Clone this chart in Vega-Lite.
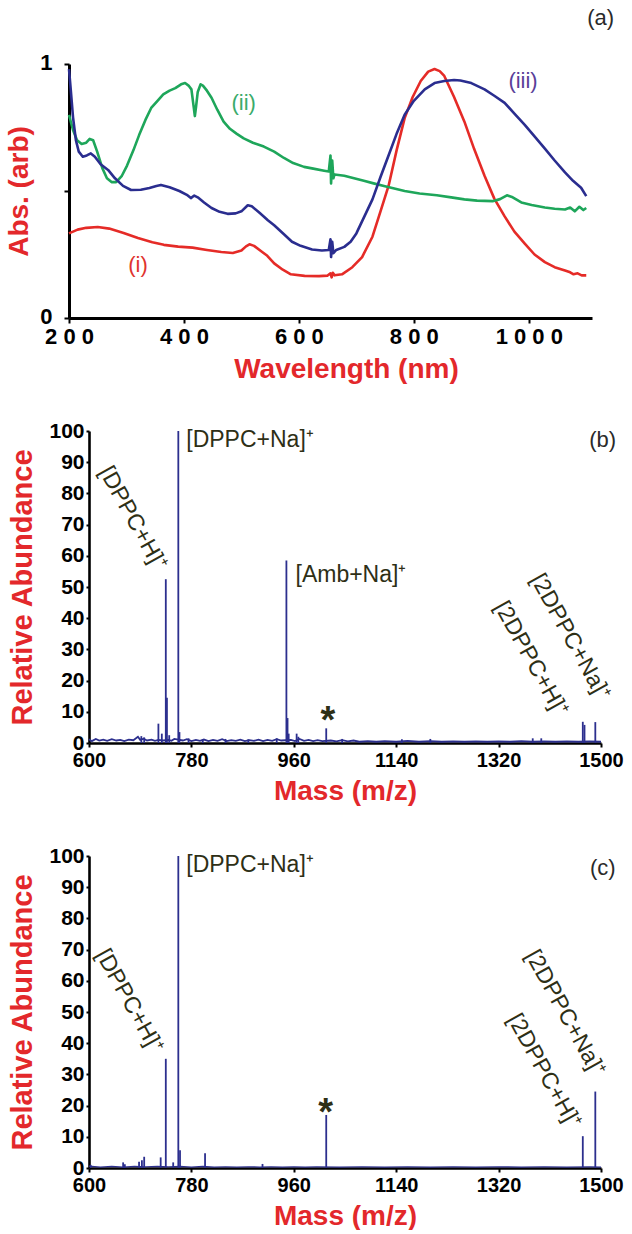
{
  "$schema": "https://vega.github.io/schema/vega-lite/v6.json",
  "background": "white",
  "padding": {"left": 5, "top": 7, "right": 0, "bottom": 0},
  "spacing": 113,
  "bounds": "flush",
  "config": {
    "font": "Liberation Sans",
    "view": {"stroke": null},
    "axis": {
      "grid": false,
      "domainColor": "black",
      "domainWidth": 2.6,
      "tickColor": "black",
      "tickWidth": 2,
      "labelColor": "black",
      "labelFont": "Liberation Sans",
      "labelFontWeight": "bold",
      "titleFont": "Liberation Sans",
      "titleFontWeight": "bold",
      "titleColor": "#e3282b",
      "titleFontSize": 28,
      "labelFontSize": 20,
      "labelFlush": false,
      "labelOverlap": false,
      "labelBound": false
    }
  },
  "datasets": {
    "uv": [
      {"s":"i","nm":200,"v":0.333},{"s":"i","nm":215,"v":0.348},{"s":"i","nm":230,"v":0.355},{"s":"i","nm":250,"v":0.358},{"s":"i","nm":270,"v":0.352},{"s":"i","nm":295,"v":0.335},{"s":"i","nm":320,"v":0.315},{"s":"i","nm":345,"v":0.298},{"s":"i","nm":365,"v":0.288},{"s":"i","nm":390,"v":0.281},{"s":"i","nm":415,"v":0.277},{"s":"i","nm":440,"v":0.268},{"s":"i","nm":465,"v":0.26},{"s":"i","nm":485,"v":0.256},{"s":"i","nm":500,"v":0.266},{"s":"i","nm":508,"v":0.282},{"s":"i","nm":514,"v":0.29},{"s":"i","nm":522,"v":0.284},{"s":"i","nm":535,"v":0.262},{"s":"i","nm":545,"v":0.245},{"s":"i","nm":557,"v":0.215},{"s":"i","nm":572,"v":0.19},{"s":"i","nm":586,"v":0.172},{"s":"i","nm":610,"v":0.166},{"s":"i","nm":635,"v":0.165},{"s":"i","nm":650,"v":0.167},{"s":"i","nm":655,"v":0.176},{"s":"i","nm":657,"v":0.16},{"s":"i","nm":659,"v":0.178},{"s":"i","nm":662,"v":0.168},{"s":"i","nm":675,"v":0.172},{"s":"i","nm":693,"v":0.2},{"s":"i","nm":710,"v":0.24},{"s":"i","nm":728,"v":0.32},{"s":"i","nm":742,"v":0.42},{"s":"i","nm":756,"v":0.52},{"s":"i","nm":770,"v":0.66},{"s":"i","nm":784,"v":0.787},{"s":"i","nm":798,"v":0.87},{"s":"i","nm":812,"v":0.933},{"s":"i","nm":825,"v":0.97},{"s":"i","nm":836,"v":0.98},{"s":"i","nm":845,"v":0.972},{"s":"i","nm":853,"v":0.953},{"s":"i","nm":870,"v":0.87},{"s":"i","nm":888,"v":0.773},{"s":"i","nm":905,"v":0.665},{"s":"i","nm":923,"v":0.56},{"s":"i","nm":940,"v":0.47},{"s":"i","nm":958,"v":0.4},{"s":"i","nm":975,"v":0.34},{"s":"i","nm":993,"v":0.293},{"s":"i","nm":1010,"v":0.25},{"s":"i","nm":1028,"v":0.22},{"s":"i","nm":1045,"v":0.2},{"s":"i","nm":1063,"v":0.187},{"s":"i","nm":1072,"v":0.18},{"s":"i","nm":1078,"v":0.172},{"s":"i","nm":1085,"v":0.176},{"s":"i","nm":1092,"v":0.168},{"s":"i","nm":1100,"v":0.168},
      {"s":"ii","nm":200,"v":0.8},{"s":"ii","nm":207,"v":0.74},{"s":"ii","nm":214,"v":0.7},{"s":"ii","nm":222,"v":0.685},{"s":"ii","nm":230,"v":0.69},{"s":"ii","nm":236,"v":0.705},{"s":"ii","nm":242,"v":0.7},{"s":"ii","nm":249,"v":0.655},{"s":"ii","nm":258,"v":0.59},{"s":"ii","nm":266,"v":0.55},{"s":"ii","nm":274,"v":0.535},{"s":"ii","nm":282,"v":0.535},{"s":"ii","nm":292,"v":0.56},{"s":"ii","nm":301,"v":0.6},{"s":"ii","nm":312,"v":0.66},{"s":"ii","nm":322,"v":0.72},{"s":"ii","nm":333,"v":0.78},{"s":"ii","nm":343,"v":0.827},{"s":"ii","nm":354,"v":0.855},{"s":"ii","nm":364,"v":0.88},{"s":"ii","nm":375,"v":0.895},{"s":"ii","nm":385,"v":0.905},{"s":"ii","nm":395,"v":0.92},{"s":"ii","nm":402,"v":0.925},{"s":"ii","nm":408,"v":0.915},{"s":"ii","nm":413,"v":0.9},{"s":"ii","nm":417,"v":0.83},{"s":"ii","nm":419,"v":0.795},{"s":"ii","nm":421,"v":0.83},{"s":"ii","nm":424,"v":0.89},{"s":"ii","nm":429,"v":0.92},{"s":"ii","nm":433,"v":0.915},{"s":"ii","nm":440,"v":0.895},{"s":"ii","nm":448,"v":0.867},{"s":"ii","nm":458,"v":0.82},{"s":"ii","nm":469,"v":0.773},{"s":"ii","nm":480,"v":0.745},{"s":"ii","nm":492,"v":0.725},{"s":"ii","nm":504,"v":0.707},{"s":"ii","nm":520,"v":0.69},{"s":"ii","nm":539,"v":0.675},{"s":"ii","nm":557,"v":0.655},{"s":"ii","nm":574,"v":0.63},{"s":"ii","nm":590,"v":0.61},{"s":"ii","nm":609,"v":0.595},{"s":"ii","nm":625,"v":0.588},{"s":"ii","nm":644,"v":0.58},{"s":"ii","nm":652,"v":0.577},{"s":"ii","nm":655,"v":0.64},{"s":"ii","nm":656,"v":0.53},{"s":"ii","nm":658,"v":0.62},{"s":"ii","nm":660,"v":0.55},{"s":"ii","nm":662,"v":0.565},{"s":"ii","nm":679,"v":0.56},{"s":"ii","nm":696,"v":0.55},{"s":"ii","nm":713,"v":0.54},{"s":"ii","nm":730,"v":0.53},{"s":"ii","nm":748,"v":0.52},{"s":"ii","nm":766,"v":0.51},{"s":"ii","nm":784,"v":0.5},{"s":"ii","nm":810,"v":0.49},{"s":"ii","nm":840,"v":0.483},{"s":"ii","nm":865,"v":0.475},{"s":"ii","nm":888,"v":0.467},{"s":"ii","nm":910,"v":0.462},{"s":"ii","nm":937,"v":0.46},{"s":"ii","nm":950,"v":0.468},{"s":"ii","nm":962,"v":0.483},{"s":"ii","nm":972,"v":0.475},{"s":"ii","nm":987,"v":0.455},{"s":"ii","nm":1005,"v":0.445},{"s":"ii","nm":1028,"v":0.435},{"s":"ii","nm":1045,"v":0.43},{"s":"ii","nm":1063,"v":0.427},{"s":"ii","nm":1072,"v":0.435},{"s":"ii","nm":1080,"v":0.42},{"s":"ii","nm":1088,"v":0.438},{"s":"ii","nm":1095,"v":0.425},{"s":"ii","nm":1100,"v":0.433},
      {"s":"iii","nm":200,"v":0.98},{"s":"iii","nm":203,"v":0.9},{"s":"iii","nm":207,"v":0.79},{"s":"iii","nm":212,"v":0.7},{"s":"iii","nm":217,"v":0.655},{"s":"iii","nm":224,"v":0.635},{"s":"iii","nm":231,"v":0.64},{"s":"iii","nm":238,"v":0.648},{"s":"iii","nm":245,"v":0.635},{"s":"iii","nm":255,"v":0.605},{"s":"iii","nm":268,"v":0.583},{"s":"iii","nm":280,"v":0.55},{"s":"iii","nm":294,"v":0.52},{"s":"iii","nm":308,"v":0.504},{"s":"iii","nm":325,"v":0.505},{"s":"iii","nm":340,"v":0.512},{"s":"iii","nm":352,"v":0.52},{"s":"iii","nm":360,"v":0.524},{"s":"iii","nm":375,"v":0.515},{"s":"iii","nm":392,"v":0.5},{"s":"iii","nm":405,"v":0.485},{"s":"iii","nm":412,"v":0.472},{"s":"iii","nm":418,"v":0.482},{"s":"iii","nm":424,"v":0.475},{"s":"iii","nm":435,"v":0.455},{"s":"iii","nm":448,"v":0.433},{"s":"iii","nm":462,"v":0.418},{"s":"iii","nm":476,"v":0.41},{"s":"iii","nm":490,"v":0.412},{"s":"iii","nm":500,"v":0.42},{"s":"iii","nm":511,"v":0.444},{"s":"iii","nm":518,"v":0.44},{"s":"iii","nm":532,"v":0.413},{"s":"iii","nm":546,"v":0.385},{"s":"iii","nm":557,"v":0.365},{"s":"iii","nm":574,"v":0.33},{"s":"iii","nm":588,"v":0.3},{"s":"iii","nm":603,"v":0.284},{"s":"iii","nm":623,"v":0.27},{"s":"iii","nm":640,"v":0.266},{"s":"iii","nm":652,"v":0.268},{"s":"iii","nm":655,"v":0.31},{"s":"iii","nm":656,"v":0.24},{"s":"iii","nm":658,"v":0.3},{"s":"iii","nm":660,"v":0.255},{"s":"iii","nm":665,"v":0.268},{"s":"iii","nm":679,"v":0.28},{"s":"iii","nm":690,"v":0.3},{"s":"iii","nm":700,"v":0.333},{"s":"iii","nm":714,"v":0.4},{"s":"iii","nm":728,"v":0.467},{"s":"iii","nm":742,"v":0.555},{"s":"iii","nm":756,"v":0.64},{"s":"iii","nm":770,"v":0.725},{"s":"iii","nm":784,"v":0.8},{"s":"iii","nm":800,"v":0.855},{"s":"iii","nm":819,"v":0.9},{"s":"iii","nm":836,"v":0.925},{"s":"iii","nm":853,"v":0.933},{"s":"iii","nm":870,"v":0.937},{"s":"iii","nm":881,"v":0.935},{"s":"iii","nm":900,"v":0.925},{"s":"iii","nm":923,"v":0.9},{"s":"iii","nm":940,"v":0.875},{"s":"iii","nm":958,"v":0.847},{"s":"iii","nm":975,"v":0.805},{"s":"iii","nm":993,"v":0.76},{"s":"iii","nm":1010,"v":0.715},{"s":"iii","nm":1028,"v":0.667},{"s":"iii","nm":1045,"v":0.62},{"s":"iii","nm":1063,"v":0.573},{"s":"iii","nm":1077,"v":0.54},{"s":"iii","nm":1091,"v":0.513},{"s":"iii","nm":1100,"v":0.48}
    ],
    "labA": [
      {"s":"i","nm":320,"v":0.21,"t":"(i)"},
      {"s":"ii","nm":504,"v":0.845,"t":"(ii)"},
      {"s":"iii","nm":990,"v":0.933,"t":"(iii)"},
      {"s":"a","nm":1125,"v":1.18,"t":"(a)"}
    ],
    "msB": [
      {"mz":692,"v":2.2},{"mz":697,"v":1.8},{"mz":722,"v":6.2},{"mz":728,"v":3},{"mz":735,"v":52.5},{"mz":737,"v":14.5},{"mz":741,"v":2.5},{"mz":757,"v":100},{"mz":759,"v":3.5},{"mz":775,"v":1.5},{"mz":800,"v":1.2},{"mz":840,"v":1.3},{"mz":880,"v":1.2},{"mz":930,"v":1.5},{"mz":947,"v":58.5},{"mz":949,"v":8},{"mz":951,"v":3},{"mz":965,"v":3},{"mz":968,"v":2},{"mz":1017,"v":4.7},{"mz":1045,"v":1.3},{"mz":1150,"v":1.2},{"mz":1200,"v":1.3},{"mz":1380,"v":1.5},{"mz":1395,"v":1.5},{"mz":1468,"v":6.8},{"mz":1471,"v":5.8},{"mz":1490,"v":6.7}
    ],
    "baseB": [
      {"mz":600,"v":1.2},{"mz":605,"v":0.6},{"mz":612,"v":1.3},{"mz":618,"v":0.8},{"mz":625,"v":1.1},{"mz":632,"v":0.7},{"mz":640,"v":1.2},{"mz":648,"v":0.8},{"mz":655,"v":1.0},{"mz":662,"v":0.6},{"mz":670,"v":1.1},{"mz":678,"v":0.9},{"mz":686,"v":2.0},{"mz":690,"v":1.0},{"mz":696,"v":1.4},{"mz":702,"v":0.8},{"mz":710,"v":1.1},{"mz":716,"v":0.7},{"mz":722,"v":1.0},{"mz":730,"v":0.8},{"mz":740,"v":1.0},{"mz":745,"v":0.7},{"mz":750,"v":1.3},{"mz":765,"v":0.8},{"mz":772,"v":1.2},{"mz":780,"v":0.6},{"mz":788,"v":1.0},{"mz":795,"v":0.7},{"mz":802,"v":1.1},{"mz":810,"v":0.6},{"mz":818,"v":1.0},{"mz":826,"v":0.7},{"mz":834,"v":1.2},{"mz":842,"v":0.6},{"mz":850,"v":0.9},{"mz":858,"v":0.7},{"mz":866,"v":1.1},{"mz":874,"v":0.6},{"mz":882,"v":0.9},{"mz":890,"v":0.7},{"mz":898,"v":1.1},{"mz":906,"v":0.6},{"mz":914,"v":1.0},{"mz":922,"v":0.7},{"mz":930,"v":1.2},{"mz":938,"v":0.8},{"mz":955,"v":1.0},{"mz":962,"v":0.6},{"mz":970,"v":1.3},{"mz":978,"v":0.7},{"mz":986,"v":1.0},{"mz":994,"v":0.6},{"mz":1002,"v":0.9},{"mz":1010,"v":0.6},{"mz":1025,"v":0.8},{"mz":1035,"v":0.5},{"mz":1045,"v":0.9},{"mz":1055,"v":0.5},{"mz":1065,"v":0.8},{"mz":1075,"v":0.4},{"mz":1090,"v":0.6},{"mz":1105,"v":0.4},{"mz":1120,"v":0.6},{"mz":1140,"v":0.4},{"mz":1160,"v":0.7},{"mz":1180,"v":0.4},{"mz":1200,"v":0.6},{"mz":1220,"v":0.4},{"mz":1240,"v":0.5},{"mz":1260,"v":0.4},{"mz":1280,"v":0.5},{"mz":1300,"v":0.4},{"mz":1320,"v":0.5},{"mz":1340,"v":0.4},{"mz":1360,"v":0.6},{"mz":1380,"v":0.4},{"mz":1400,"v":0.5},{"mz":1420,"v":0.4},{"mz":1440,"v":0.5},{"mz":1460,"v":0.4},{"mz":1480,"v":0.5},{"mz":1500,"v":0.4}
    ],
    "annB": [
      {"mz":771,"v":97,"t":"[DPPC+Na]⁺","k":"h"},
      {"mz":963,"v":54,"t":"[Amb+Na]⁺","k":"h"},
      {"mz":677,"v":72,"t":"[DPPC+H]⁺","k":"r"},
      {"mz":1377,"v":27,"t":"[2DPPC+H]⁺","k":"r"},
      {"mz":1446,"v":34,"t":"[2DPPC+Na]⁺","k":"r"},
      {"mz":1020,"v":6.6,"t":"*","k":"s"},
      {"mz":1503,"v":97,"t":"(b)","k":"p"}
    ],
    "msC": [
      {"mz":603,"v":1},{"mz":660,"v":1.8},{"mz":663,"v":1.2},{"mz":688,"v":2},{"mz":693,"v":2.5},{"mz":697,"v":3.6},{"mz":726,"v":3.4},{"mz":735,"v":35},{"mz":748,"v":1.8},{"mz":757,"v":100},{"mz":760,"v":5.7},{"mz":804,"v":4.7},{"mz":905,"v":1.3},{"mz":1017,"v":17},{"mz":1468,"v":10.2},{"mz":1490,"v":24.5}
    ],
    "baseC": [
      {"mz":600,"v":0.6},{"mz":620,"v":0.3},{"mz":640,"v":0.5},{"mz":660,"v":0.3},{"mz":680,"v":0.5},{"mz":700,"v":0.4},{"mz":720,"v":0.5},{"mz":740,"v":0.4},{"mz":760,"v":0.5},{"mz":780,"v":0.3},{"mz":800,"v":0.5},{"mz":820,"v":0.3},{"mz":840,"v":0.4},{"mz":860,"v":0.3},{"mz":880,"v":0.4},{"mz":900,"v":0.3},{"mz":920,"v":0.4},{"mz":940,"v":0.3},{"mz":960,"v":0.4},{"mz":980,"v":0.3},{"mz":1000,"v":0.4},{"mz":1040,"v":0.3},{"mz":1080,"v":0.4},{"mz":1120,"v":0.3},{"mz":1160,"v":0.4},{"mz":1200,"v":0.3},{"mz":1240,"v":0.4},{"mz":1280,"v":0.3},{"mz":1320,"v":0.4},{"mz":1360,"v":0.3},{"mz":1400,"v":0.4},{"mz":1440,"v":0.3},{"mz":1480,"v":0.4},{"mz":1500,"v":0.3}
    ],
    "annC": [
      {"mz":771,"v":97,"t":"[DPPC+Na]⁺","k":"h"},
      {"mz":671,"v":53.5,"t":"[DPPC+H]⁺","k":"r"},
      {"mz":1437,"v":49.6,"t":"[2DPPC+Na]⁺","k":"r"},
      {"mz":1400,"v":31,"t":"[2DPPC+H]⁺","k":"r"},
      {"mz":1016,"v":17.3,"t":"*","k":"s"},
      {"mz":1503,"v":96,"t":"(c)","k":"p"}
    ]
  },
  "vconcat": [
    {
      "width": 512,
      "height": 254,
      "resolve": {"scale": {"color": "independent"}},
      "layer": [
        {
          "data": {"name": "uv"},
          "mark": {"type": "line", "strokeWidth": 2.6, "strokeJoin": "round"},
          "encoding": {
            "x": {"field": "nm", "type": "quantitative",
              "scale": {"domain": [200, 1110], "range": [-20, 503], "nice": false, "zero": false},
              "axis": {"title": "Wavelength (nm)", "values": [200, 400, 600, 800, 1000], "labelExpr": "join(split(format(datum.value, 'd'), ''), ' ')", "labelFontSize": 22, "labelFontWeight": "bold", "labelOverlap": false, "labelFlush": false, "tickSize": 5, "labelPadding": 3, "titlePadding": 8, "titleX": 257, "domainWidth": 3}},
            "y": {"field": "v", "type": "quantitative",
              "scale": {"domain": [0, 1], "nice": false},
              "axis": {"title": "Abs. (arb)", "values": [0, 0.5, 1], "labelExpr": "datum.value == 0.5 ? '' : format(datum.value, 'd')", "labelFontSize": 22, "labelFontWeight": "bold", "labelOverlap": false, "labelOffset": -2, "tickSize": 5, "labelPadding": 12, "titlePadding": 6, "offset": 20, "domainWidth": 3}},
            "color": {"field": "s", "type": "nominal", "scale": {"domain": ["i", "ii", "iii"], "range": ["#e52b27", "#1ea65a", "#2a2d8f"]}, "legend": null},
            "order": {"field": "nm", "type": "quantitative"}
          }
        },
        {
          "data": {"name": "labA"},
          "mark": {"type": "text", "fontSize": 22, "align": "center", "baseline": "middle"},
          "encoding": {
            "x": {"field": "nm", "type": "quantitative"},
            "y": {"field": "v", "type": "quantitative"},
            "text": {"field": "t"},
            "color": {"field": "s", "type": "nominal", "scale": {"domain": ["i", "ii", "iii", "a"], "range": ["#e0332e", "#3aab6b", "#5a3f99", "#2a2a2a"]}, "legend": null}
          }
        }
      ]
    },
    {
      "width": 512,
      "height": 312,
      "layer": [
        {
          "data": {"name": "baseB"},
          "mark": {"type": "line", "color": "#2c2f8e", "strokeWidth": 1.8},
          "encoding": {
            "x": {"field": "mz", "type": "quantitative",
              "scale": {"domain": [600, 1500], "nice": false, "zero": false},
              "axis": {"title": "Mass (m/z)", "values": [600, 780, 960, 1140, 1320, 1500], "format": "d", "labelFontSize": 20, "labelFontWeight": "bold", "labelOverlap": false, "labelFlush": false, "tickSize": 4, "labelPadding": 3, "titlePadding": 7}},
            "y": {"field": "v", "type": "quantitative",
              "scale": {"domain": [0, 100], "nice": false},
              "axis": {"title": "Relative Abundance", "titleFontSize": 29, "tickCount": 10, "format": "d", "labelFontSize": 21, "labelFontWeight": "bold", "labelOverlap": false, "labelSeparation": 0, "tickSize": 3, "labelPadding": 2, "titlePadding": 11}}
          }
        },
        {
          "data": {"name": "msB"},
          "mark": {"type": "rule", "color": "#2c2f8e", "strokeWidth": 1.8},
          "encoding": {
            "x": {"field": "mz", "type": "quantitative"},
            "y": {"field": "v", "type": "quantitative"},
            "y2": {"datum": 0}
          }
        },
        {
          "data": {"name": "annB"},
          "transform": [{"filter": "datum.k == 'h'"}],
          "mark": {"type": "text", "fontSize": 23, "align": "left", "baseline": "middle", "color": "#2e2f16"},
          "encoding": {"x": {"field": "mz", "type": "quantitative"}, "y": {"field": "v", "type": "quantitative"}, "text": {"field": "t"}}
        },
        {
          "data": {"name": "annB"},
          "transform": [{"filter": "datum.k == 'r'"}],
          "mark": {"type": "text", "fontSize": 23, "align": "center", "baseline": "middle", "angle": 61, "color": "#2e2f16"},
          "encoding": {"x": {"field": "mz", "type": "quantitative"}, "y": {"field": "v", "type": "quantitative"}, "text": {"field": "t"}}
        },
        {
          "data": {"name": "annB"},
          "transform": [{"filter": "datum.k == 's'"}],
          "mark": {"type": "text", "fontSize": 38, "fontWeight": "bold", "align": "center", "baseline": "middle", "color": "#2e2f16"},
          "encoding": {"x": {"field": "mz", "type": "quantitative"}, "y": {"field": "v", "type": "quantitative"}, "text": {"field": "t"}}
        },
        {
          "data": {"name": "annB"},
          "transform": [{"filter": "datum.k == 'p'"}],
          "mark": {"type": "text", "fontSize": 22, "align": "center", "baseline": "middle", "color": "#2a2a2a"},
          "encoding": {"x": {"field": "mz", "type": "quantitative"}, "y": {"field": "v", "type": "quantitative"}, "text": {"field": "t"}}
        }
      ]
    },
    {
      "width": 512,
      "height": 312,
      "layer": [
        {
          "data": {"name": "baseC"},
          "mark": {"type": "line", "color": "#2c2f8e", "strokeWidth": 1.2},
          "encoding": {
            "x": {"field": "mz", "type": "quantitative",
              "scale": {"domain": [600, 1500], "nice": false, "zero": false},
              "axis": {"title": "Mass (m/z)", "values": [600, 780, 960, 1140, 1320, 1500], "format": "d", "labelFontSize": 20, "labelFontWeight": "bold", "labelOverlap": false, "labelFlush": false, "tickSize": 4, "labelPadding": 3, "titlePadding": 7}},
            "y": {"field": "v", "type": "quantitative",
              "scale": {"domain": [0, 100], "nice": false},
              "axis": {"title": "Relative Abundance", "titleFontSize": 29, "tickCount": 10, "format": "d", "labelFontSize": 21, "labelFontWeight": "bold", "labelOverlap": false, "labelSeparation": 0, "tickSize": 3, "labelPadding": 2, "titlePadding": 11}}
          }
        },
        {
          "data": {"name": "msC"},
          "mark": {"type": "rule", "color": "#2c2f8e", "strokeWidth": 1.8},
          "encoding": {
            "x": {"field": "mz", "type": "quantitative"},
            "y": {"field": "v", "type": "quantitative"},
            "y2": {"datum": 0}
          }
        },
        {
          "data": {"name": "annC"},
          "transform": [{"filter": "datum.k == 'h'"}],
          "mark": {"type": "text", "fontSize": 23, "align": "left", "baseline": "middle", "color": "#2e2f16"},
          "encoding": {"x": {"field": "mz", "type": "quantitative"}, "y": {"field": "v", "type": "quantitative"}, "text": {"field": "t"}}
        },
        {
          "data": {"name": "annC"},
          "transform": [{"filter": "datum.k == 'r'"}],
          "mark": {"type": "text", "fontSize": 23, "align": "center", "baseline": "middle", "angle": 61, "color": "#2e2f16"},
          "encoding": {"x": {"field": "mz", "type": "quantitative"}, "y": {"field": "v", "type": "quantitative"}, "text": {"field": "t"}}
        },
        {
          "data": {"name": "annC"},
          "transform": [{"filter": "datum.k == 's'"}],
          "mark": {"type": "text", "fontSize": 38, "fontWeight": "bold", "align": "center", "baseline": "middle", "color": "#2e2f16"},
          "encoding": {"x": {"field": "mz", "type": "quantitative"}, "y": {"field": "v", "type": "quantitative"}, "text": {"field": "t"}}
        },
        {
          "data": {"name": "annC"},
          "transform": [{"filter": "datum.k == 'p'"}],
          "mark": {"type": "text", "fontSize": 22, "align": "center", "baseline": "middle", "color": "#2a2a2a"},
          "encoding": {"x": {"field": "mz", "type": "quantitative"}, "y": {"field": "v", "type": "quantitative"}, "text": {"field": "t"}}
        }
      ]
    }
  ]
}
